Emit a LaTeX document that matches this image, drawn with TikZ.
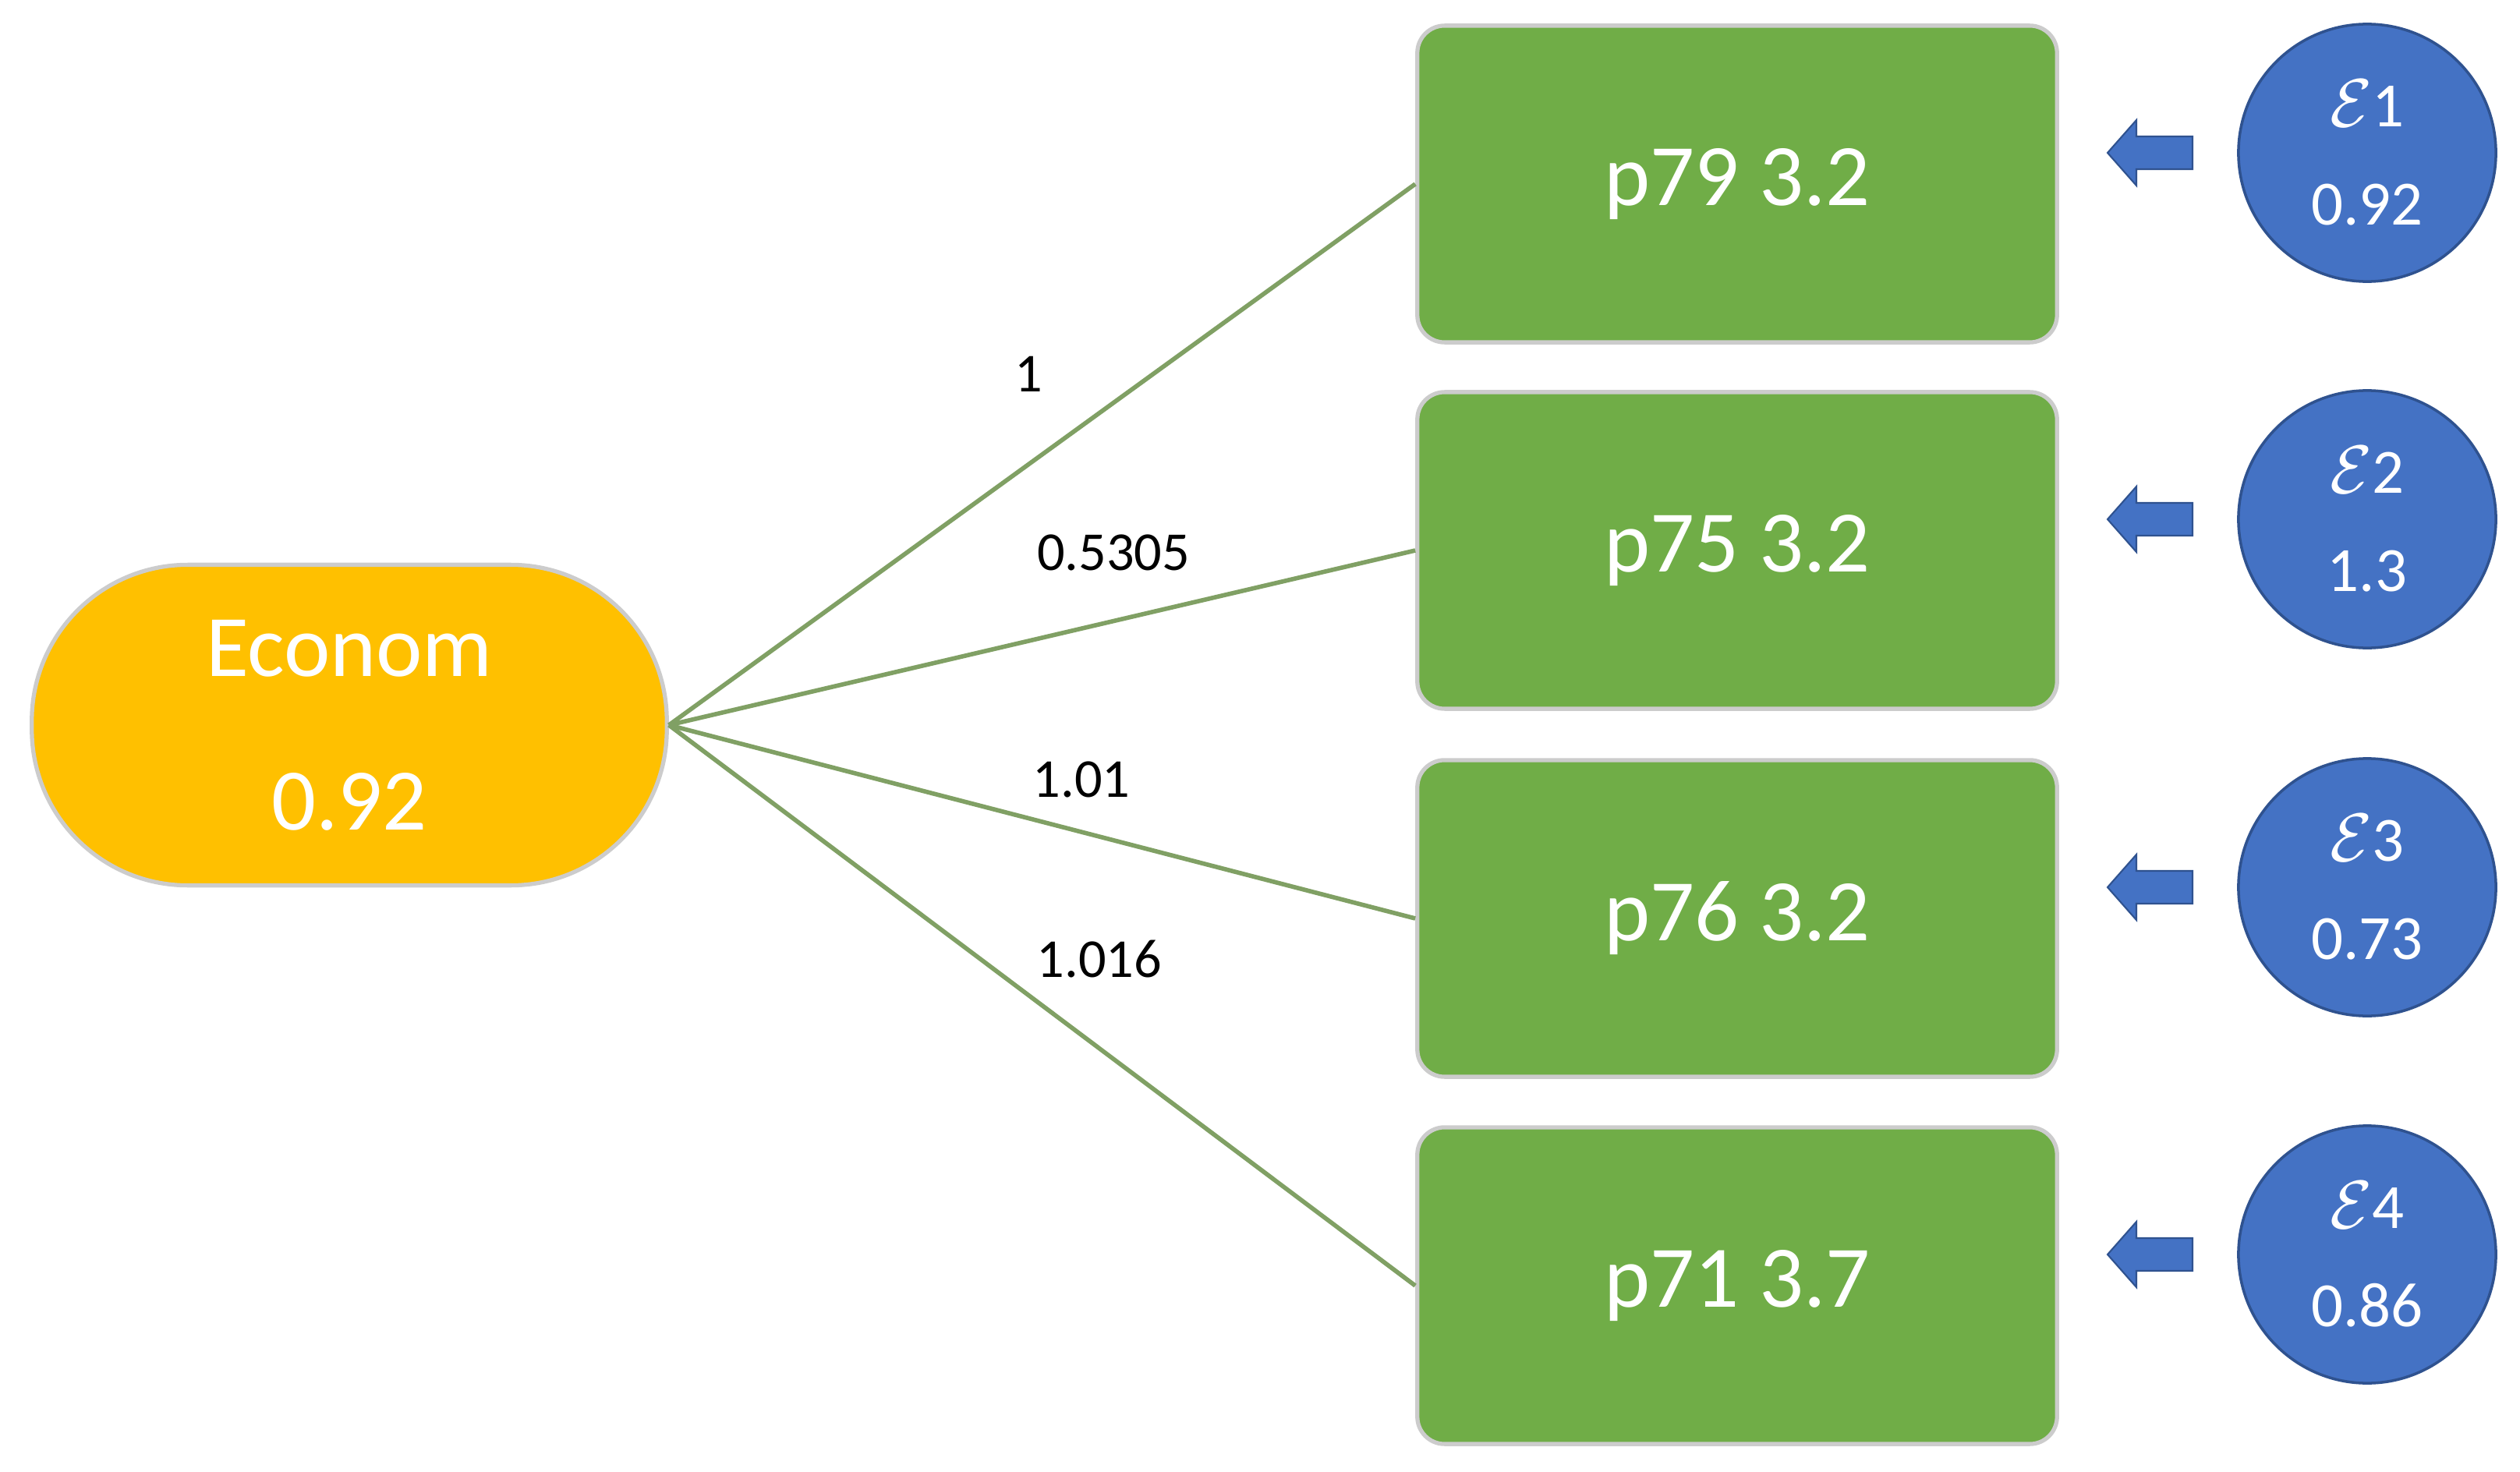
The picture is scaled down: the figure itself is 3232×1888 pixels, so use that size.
\documentclass[tikz,border=0pt]{standalone}
\usepackage{fontspec}
\setmainfont{Carlito}
\begin{document}
\begin{tikzpicture}[x=0.01cm,y=-0.01cm,
  box/.style={draw=black!20,line width=1.5pt,fill={rgb,255:red,112;green,173;blue,71},rounded corners=0.35cm,minimum width=8.2cm,minimum height=4.06cm,text=white,font=\fontsize{32}{38}\selectfont},
  err/.style={circle,draw={rgb,255:red,47;green,82;blue,143},line width=1pt,fill={rgb,255:red,68;green,114;blue,196},minimum size=3.3cm,text=white,font=\fontsize{23}{36}\selectfont,align=center},
  ln/.style={draw={rgb,255:red,128;green,160;blue,100},line width=1.6pt},
  lab/.style={font=\fontsize{20}{24}\selectfont},
  arr/.style={fill={rgb,255:red,68;green,114;blue,196},draw={rgb,255:red,47;green,82;blue,143},line width=0.6pt}]
\useasboundingbox (0,0) rectangle (3232,1888);
\node[draw=black!20,line width=1.5pt,fill={rgb,255:red,255;green,192;blue,0},rounded corners=2cm,minimum width=8.14cm,minimum height=4.11cm,text=white,align=center,font=\fontsize{32}{56}\selectfont] (econ) at (448,930) {Econom\\0.92};
\foreach \n/\t/\y/\e/\v in {a/p79 3.2/236/1/0.92, b/p75 3.2/706/2/1.3, c/p76 3.2/1178/3/0.73, d/p71 3.7/1649/4/0.86}{
  \node[box] (\n) at (2228,\y) {\t};
  \node[err] (e\n) at (3036,\y-40) {$\mathcal{E}$\e\\\v};
  \path[arr] (2703,\y-40) -- (2740,\y-82) -- (2740,\y-61) -- (2812,\y-61) -- (2812,\y-19) -- (2740,\y-19) -- (2740,\y+2) -- cycle;
  \draw[ln] (econ.east) -- (\n.west);
}
\node[lab] at (1319,480) {1};
\node[lab] at (1428,709) {0.5305};
\node[lab] at (1387,1000) {1.01};
\node[lab] at (1410,1230) {1.016};
\end{tikzpicture}
\end{document}
